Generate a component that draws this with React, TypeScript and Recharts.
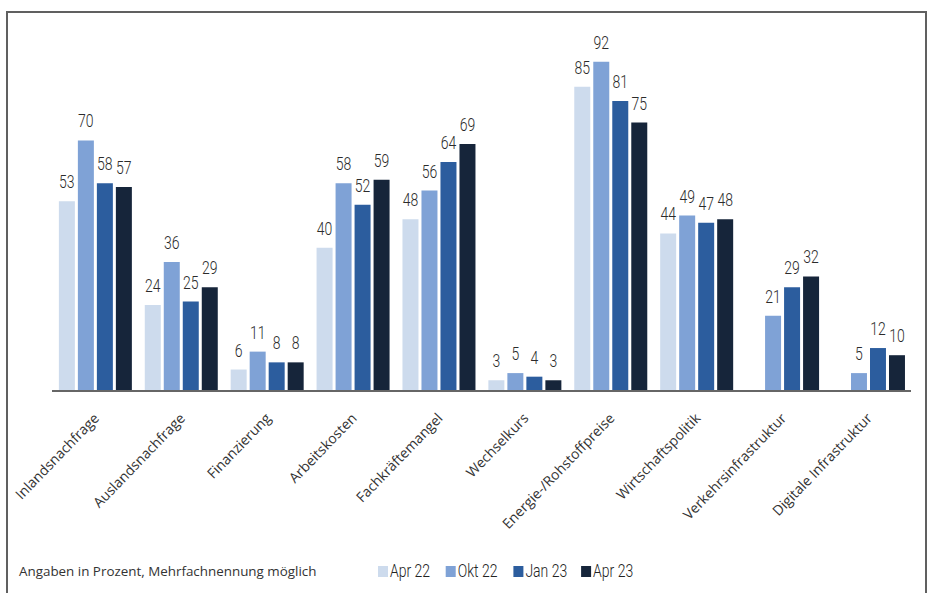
import React from "react";
import { BarChart, Bar, XAxis, YAxis, LabelList } from "recharts";

const categories = [
  "Inlandsnachfrage",
  "Auslandsnachfrage",
  "Finanzierung",
  "Arbeitskosten",
  "Fachkräftemangel",
  "Wechselkurs",
  "Energie-/Rohstoffpreise",
  "Wirtschaftspolitik",
  "Verkehrsinfrastruktur",
  "Digitale Infrastruktur",
];

const apr22 = [53, 24, 6, 40, 48, 3, 85, 44, null, null];
const okt22 = [70, 36, 11, 58, 56, 5, 92, 49, 21, 5];
const jan23 = [58, 25, 8, 52, 64, 4, 81, 47, 29, 12];
const apr23 = [57, 29, 8, 59, 69, 3, 75, 48, 32, 10];

const seriesNames = ["Apr 22", "Okt 22", "Jan 23", "Apr 23"];
const seriesKeys = ["apr22", "okt22", "jan23", "apr23"];
const seriesColors = ["#cddbed", "#7fa2d6", "#2c5d9e", "#16253a"];
const seriesValues = [apr22, okt22, jan23, apr23];

const note = "Angaben in Prozent, Mehrfachnennung möglich";

const data = categories.map((name, i) => {
  const row: Record<string, string | number | null> = { name };
  seriesKeys.forEach((k, s) => {
    row[k] = seriesValues[s][i];
  });
  return row;
});

const condensed = "Roboto, 'Noto Sans', sans-serif";
const humanist = "'Open Sans', 'Noto Sans', sans-serif";
const SQUEEZE = 0.8;

const CategoryTick = (props: any) => {
  const { x, y, payload } = props;
  return (
    <g transform={`translate(${x + 5},${y + 20})`}>
      <text
        x={0}
        y={0}
        textAnchor="end"
        transform="rotate(-46)"
        fontFamily={humanist}
        fontSize={14}
        fill="#333"
      >
        {payload.value}
      </text>
    </g>
  );
};

const ValueLabel = (props: any) => {
  const { x, y, width, value } = props;
  if (value === null || value === undefined) return null;
  const cx = Number(x) + Number(width) / 2;
  const cy = Number(y) - 13;
  return (
    <text
      transform={`translate(${cx},${cy}) scale(${SQUEEZE},1)`}
      x={0}
      y={0}
      textAnchor="middle"
      fontFamily={condensed}
      fontWeight={300}
      fontSize={17.5}
      fill="#2b2b2b"
    >
      {value}
    </text>
  );
};

export default function App() {
  return (
    <div
      style={{
        position: "fixed",
        left: 0,
        top: 0,
        width: 931,
        height: 593,
        overflow: "hidden",
        background: "#fff",
      }}
    >
      <div
        style={{
          position: "absolute",
          left: 6,
          top: 11,
          width: 921,
          height: 640,
          border: "2px solid #606060",
          boxSizing: "border-box",
        }}
      />
      <div style={{ position: "absolute", left: 0, top: 0 }}>
        <BarChart
          width={931}
          height={593}
          data={data}
          margin={{ top: 33, right: 20, left: 52, bottom: 0 }}
          barCategoryGap="8%"
          barGap={3}
        >
          <XAxis
            dataKey="name"
            height={202}
            interval={0}
            tickLine={false}
            axisLine={{ stroke: "#666", strokeWidth: 2 }}
            tick={<CategoryTick />}
          />
          <YAxis hide domain={[0, 100]} />
          {seriesKeys.map((k, s) => (
            <Bar
              key={k}
              dataKey={k}
              name={seriesNames[s]}
              fill={seriesColors[s]}
              isAnimationActive={false}
            >
              <LabelList dataKey={k} content={<ValueLabel />} />
            </Bar>
          ))}
        </BarChart>
      </div>
      <div
        style={{
          position: "absolute",
          left: 19,
          top: 562,
          fontFamily: humanist,
          fontSize: 13.4,
          color: "#333",
          whiteSpace: "nowrap",
        }}
      >
        {note}
      </div>
      <svg
        width={931}
        height={593}
        style={{ position: "absolute", left: 0, top: 0, pointerEvents: "none" }}
      >
        {seriesNames.map((n, s) => {
          const lx = 378 + s * 67.7;
          return (
            <g key={n}>
              <rect x={lx} y={566} width={10} height={11} fill={seriesColors[s]} />
              <text
                transform={`translate(${lx + 12},${577}) scale(${SQUEEZE},1)`}
                x={0}
                y={0}
                fontFamily={condensed}
                fontWeight={300}
                fontSize={17.5}
                fill="#222"
              >
                {n}
              </text>
            </g>
          );
        })}
      </svg>
    </div>
  );
}
